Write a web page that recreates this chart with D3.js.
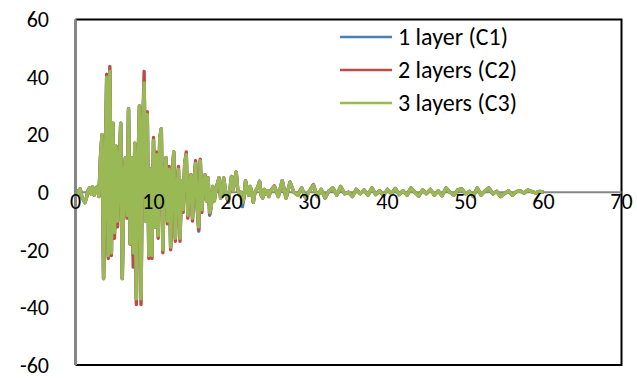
<!DOCTYPE html>
<html>
<head>
<meta charset="utf-8">
<script src="https://cdn.jsdelivr.net/npm/d3@7"></script>
<style>
  body { margin: 0; background: #fff; }
  text { font-family: Carlito, Calibri, Lato, sans-serif; fill: #000; }
</style>
</head>
<body>
<svg id="chart" width="637" height="378"></svg>
<script>
// sample grid: 0.2 s steps to 25 s, then 0.5 s steps to 60 s
var time = d3.range(0, 126).map(function(i){ return +(i * 0.2).toFixed(1) })
  .concat(d3.range(1, 71).map(function(i){ return 25 + i * 0.5 }))

var xTicks = [0, 10, 20, 30, 40, 50, 60, 70]
var yTicks = [-60, -40, -20, 0, 20, 40, 60]
var seriesNames = ["1 layer (C1)", "2 layers (C2)", "3 layers (C3)"]
var seriesColors = ["#4A7EBB", "#BE4B48", "#98B954"]

// 1 layer
var c1 = [
  0, 0.5, -0.8, 1.2, -1.5,   -2.5, -3.6, -2.0, 0.5, 1.5,   -0.5, 1.8, -1.0, 0.8, 2.0,
  -1.5, 12, 20, -30, 5,      40, -22, 42, -21, 24,         -14, 16, -10, 9, 24,
  -30, 4, 12, -8, 29,        -18, 12, -22, 17, -37,        8, 30, -37, 20, 38,
  -10, 27, -22, 8, -22,      18, -12, 13, -15, 19,         22, -20, 5, 12, -10,
  8, -19, 6, 14, -16,        1, 8, -16, 4, -6,             10, 13, -8, 2, 6,
  -9, 4, 10, -5, -13.5,      11, -6, 3, 6, -3,             5, -8, -5, 2, -3,
  1, 3, 5, -2, 0,            5, 1, -2, -3.5, 1,            5.5, 1, 4, 7, 1,
  -1, 0, -5, -2, 4,          1, -1, 2, 0, -3.5,            0, 1, 2, 3.8, -1,
  -2, 1, -0.5, 0.5, -1.5,    0.5,
  2, -1.5, 4, -2, 3.5, 0, -1, 1.5, -2, 0.5,
  2.5, -1.5, 1, -2, 0.5, 1.5, -1, 2, -0.5, 0,
  -1.5, 1, -0.5, 0.8, -1, 1.5, -0.8, 0.5, -1.2, 1,
  -0.5, 1.3, -0.8, 0.5, -1, 1.5, 0, -1.3, 0.8, -0.5,
  1, -1, 0.5, -1.2, 1.5, 0, -1, 0.8, 1.2, -0.5,
  0.3, -1.5, 1.5, -1, 0.5, 1.5, -0.5, 0.3, -1.5, -0.5,
  0.5, -1, 0.2, 0.5, -0.3, 0.8, 0.2, -0.2, 0.3, 0
]

// 2 layers
var c2 = [
  0, 0.5, -0.8, 1.2, -1.5,   -2.5, -3.6, -2.0, 0.5, 1.5,   -0.5, 1.8, -1.0, 0.8, 2.0,
  -1.5, 12, 20, -30, 5,      41, -23, 43.7, -22, 24,       -16, 16, -12, 9, 24,
  -30, 4, 12, -9, 29,        -18, 12, -26, 17, -39,        8, 30, -39, 20, 42,
  -10, 28, -23, 8, -23,      19, -12, 14, -16, 19,         22, -21, 5, 12, -11,
  9, -20, 6, 14, -17,        1, 9, -17, 4, -7,             10, 14, -9, 2, 6,
  -10, 4, 11, -5, -13,       11.5, -7, 3, 6, -3,           5, -7.5, -5, 2, -3,
  1, 3, 5, -2, 0,            5, 1, -2, -3, 1,              5.5, 1, 4, 7, 1,
  -1, 0, -3.5, -2, 4,        1, -1, 2, 0, -3.5,            0, 1, 2, 3.8, -1,
  -2, 1, -0.5, 0.5, -1.5,    0.5,
  2.2, -1.5, 4, -2, 3.5, 0, -1, 1.5, -2, 0.5,
  2.7, -1.5, 1, -2, 0.5, 1.5, -1, 2, -0.5, 0,
  -1.5, 1, -0.5, 0.8, -1, 1.5, -0.8, 0.5, -1.2, 1,
  -0.5, 1.3, -0.8, 0.5, -1, 1.5, 0, -1.3, 0.8, -0.5,
  1, -1, 0.5, -1.2, 1.5, 0, -1, 0.8, 1.2, -0.5,
  0.3, -1.5, 1.5, -1, 0.5, 1.5, -0.5, 0.3, -1.5, -0.5,
  0.5, -1, 0.2, 0.5, -0.3, 0.8, 0.2, -0.2, 0.3, 0
]

// 3 layers
var c3 = [
  0, 0.5, -0.8, 1.2, -1.5,   -2.5, -3.6, -2.0, 0.5, 1.5,   -0.5, 1.8, -1.0, 0.8, 2.0,
  -1.5, 12, 20, -30, 5,      40, -22, 42, -21, 24,         -14, 16, -10, 9, 24,
  -30, 4, 12, -8, 29,        -18, 12, -21, 17, -37,        8, 30, -37, 20, 38,
  -10, 27, -22, 8, -22,      18, -12, 13, -15, 19,         22, -20, 5, 12, -10,
  8, -19, 6, 14, -16,        1, 8, -16, 4, -6,             10, 13, -8, 2, 6,
  -9, 4, 10, -5, -12,        11, -6, 3, 6, -3,             5, -7, -5, 2, -3,
  1, 3, 5, -2, 0,            5, 1, -2, -2.5, 1,            5.5, 1, 4, 7, 1,
  -1, 0, -3.5, -2, 4,        1, -1, 2, 0, -3.5,            0, 1, 2, 3.8, -1,
  -2, 1, -0.5, 0.5, -1.5,    0.5,
  2, -1.5, 4, -2, 3.5, 0, -1, 1.5, -2, 0.5,
  2.5, -1.5, 1, -2, 0.5, 1.5, -1, 2, -0.5, 0,
  -1.5, 1, -0.5, 0.8, -1, 1.5, -0.8, 0.5, -1.2, 1,
  -0.5, 1.3, -0.8, 0.5, -1, 1.5, 0, -1.3, 0.8, -0.5,
  1, -1, 0.5, -1.2, 1.5, 0, -1, 0.8, 1.2, -0.5,
  0.3, -1.5, 1.5, -1, 0.5, 1.5, -0.5, 0.3, -1.5, -0.5,
  0.5, -1, 0.2, 0.5, -0.3, 0.8, 0.2, -0.2, 0.3, 0
]

var series = [c1, c2, c3]

var svg = d3.select("#chart")
var plotLeft = 75.5, plotRight = 621.5, plotTop = 19.5, plotBottom = 365

var x = d3.scaleLinear().domain([0, 70]).range([plotLeft, plotRight])
var y = d3.scaleLinear().domain([-60, 60]).range([plotBottom, plotTop])

// plot area border (top, right, bottom)
svg.append("path")
  .attr("d", "M" + plotLeft + "," + plotTop + "H" + plotRight + "V" + plotBottom + "H" + plotLeft)
  .attr("fill", "none")
  .attr("stroke", "#000")
  .attr("stroke-width", 2)

// horizontal axis at zero
svg.append("line")
  .attr("x1", plotLeft).attr("x2", plotRight)
  .attr("y1", y(0)).attr("y2", y(0))
  .attr("stroke", "#868686").attr("stroke-width", 2)

var line = d3.line()
  .x(function(d, i){ return x(time[i]) })
  .y(function(d){ return y(d) })

series.forEach(function(s, k){
  svg.append("path")
    .datum(s)
    .attr("d", line)
    .attr("fill", "none")
    .attr("stroke", seriesColors[k])
    .attr("stroke-width", 3.4)
    .attr("stroke-linejoin", "round")
})

// vertical axis
svg.append("line")
  .attr("x1", plotLeft).attr("x2", plotLeft)
  .attr("y1", plotTop).attr("y2", plotBottom)
  .attr("stroke", "#868686").attr("stroke-width", 3)

// tick labels
svg.append("g").selectAll("text")
  .data(yTicks).enter().append("text")
  .attr("x", 49)
  .attr("y", function(d){ return y(d) })
  .attr("dy", "0.35em")
  .attr("text-anchor", "end")
  .attr("font-size", 22)
  .text(function(d){ return d })

svg.append("g").selectAll("text")
  .data(xTicks).enter().append("text")
  .attr("x", function(d){ return x(d) })
  .attr("y", y(0) + 9)
  .attr("dy", "0.35em")
  .attr("text-anchor", "middle")
  .attr("font-size", 22)
  .text(function(d){ return d })

// legend
var legendY = [37, 70, 103]
var legend = svg.append("g")
seriesNames.forEach(function(name, k){
  legend.append("line")
    .attr("x1", 340).attr("x2", 392)
    .attr("y1", legendY[k]).attr("y2", legendY[k])
    .attr("stroke", seriesColors[k]).attr("stroke-width", 2.6)
  legend.append("text")
    .attr("x", 398).attr("y", legendY[k])
    .attr("dy", "0.35em")
    .attr("font-size", 24)
    .text(name)
})
</script>
</body>
</html>
